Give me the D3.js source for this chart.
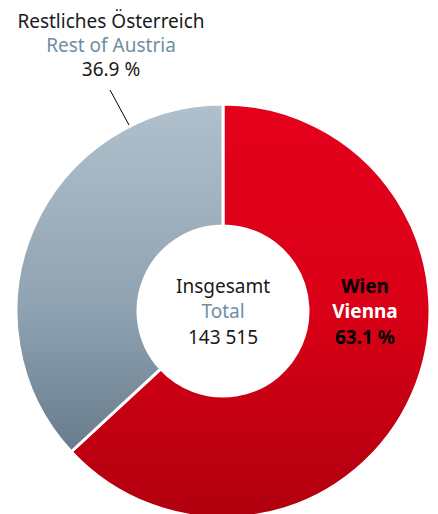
<!DOCTYPE html>
<html>
<head>
<meta charset="utf-8">
<script src="https://cdn.jsdelivr.net/npm/d3@7"></script>
<style>
  html, body { margin: 0; padding: 0; background: #fff; }
  svg { display: block; }
  text { font-family: "Noto Sans", sans-serif; }
</style>
</head>
<body>
<div id="chart"></div>
<script>
// data
const regions = ["Wien", "Restliches Österreich"];
const regionsEn = ["Vienna", "Rest of Austria"];
const shares = [63.1, 36.9];
const totalLabel = ["Insgesamt", "Total", "143 515"];

const W = 438, H = 514;
const cx = 223, cy = 311;
const outerR = 207, innerR = 85;

const svg = d3.select("#chart").append("svg")
  .attr("width", W).attr("height", H)
  .attr("viewBox", `0 0 ${W} ${H}`);

const defs = svg.append("defs");
// vertical gradients across the ring (coords are in the ring group's space)
const grads = [
  { id: "gRed", stops: [[0, "#e4001b"], [0.5, "#d90017"], [1, "#b0000e"]] },
  { id: "gGrey", stops: [[0, "#b0c0cd"], [0.5, "#8fa2b1"], [1, "#55697b"]] },
];
grads.forEach((g) => {
  const lg = defs.append("linearGradient")
    .attr("id", g.id)
    .attr("gradientUnits", "userSpaceOnUse")
    .attr("x1", 0).attr("y1", -outerR)
    .attr("x2", 0).attr("y2", outerR);
  g.stops.forEach(([o, c]) => lg.append("stop").attr("offset", o).attr("stop-color", c));
});

const pie = d3.pie().sort(null).value((d) => d);
const arc = d3.arc().innerRadius(innerR).outerRadius(outerR);
const arcs = pie(shares);

const root = svg.append("g").attr("transform", `translate(${cx},${cy})`);

root.selectAll("path.slice")
  .data(arcs)
  .join("path")
  .attr("class", "slice")
  .attr("fill", (d, i) => (i === 0 ? "url(#gRed)" : "url(#gGrey)"))
  .attr("stroke", "#fff")
  .attr("stroke-width", 3)
  .attr("stroke-linejoin", "miter")
  .attr("d", arc);

// center label
const center = root.append("text").attr("text-anchor", "middle").attr("font-size", 19);
center.append("tspan").attr("x", 0).attr("y", -18).attr("fill", "#1a1a1a").text(totalLabel[0]);
center.append("tspan").attr("x", 0).attr("y", 7).attr("fill", "#6f8ea3").text(totalLabel[1]);
center.append("tspan").attr("x", 0).attr("y", 33).attr("fill", "#1a1a1a").text(totalLabel[2]);

const fmt = (v) => v.toFixed(1) + " %";

// Vienna label inside slice
const wien = root.append("text").attr("text-anchor", "middle").attr("font-size", 19).attr("font-weight", "bold");
wien.append("tspan").attr("x", 142).attr("y", -18).attr("fill", "#000").text(regions[0]);
wien.append("tspan").attr("x", 142).attr("y", 7).attr("fill", "#fff").text(regionsEn[0]);
wien.append("tspan").attr("x", 142).attr("y", 33).attr("fill", "#000").text(fmt(shares[0]));

// Rest of Austria label outside, with leader line
const rest = svg.append("text").attr("text-anchor", "middle").attr("font-size", 19);
rest.append("tspan").attr("x", 111).attr("y", 28).attr("fill", "#1a1a1a").text(regions[1]);
rest.append("tspan").attr("x", 111).attr("y", 52).attr("fill", "#6f8ea3").text(regionsEn[1]);
rest.append("tspan").attr("x", 111).attr("y", 76).attr("fill", "#1a1a1a").text(fmt(shares[1]));

svg.append("line")
  .attr("x1", 110).attr("y1", 90)
  .attr("x2", 129).attr("y2", 125)
  .attr("stroke", "#000").attr("stroke-width", 1);
</script>
</body>
</html>
